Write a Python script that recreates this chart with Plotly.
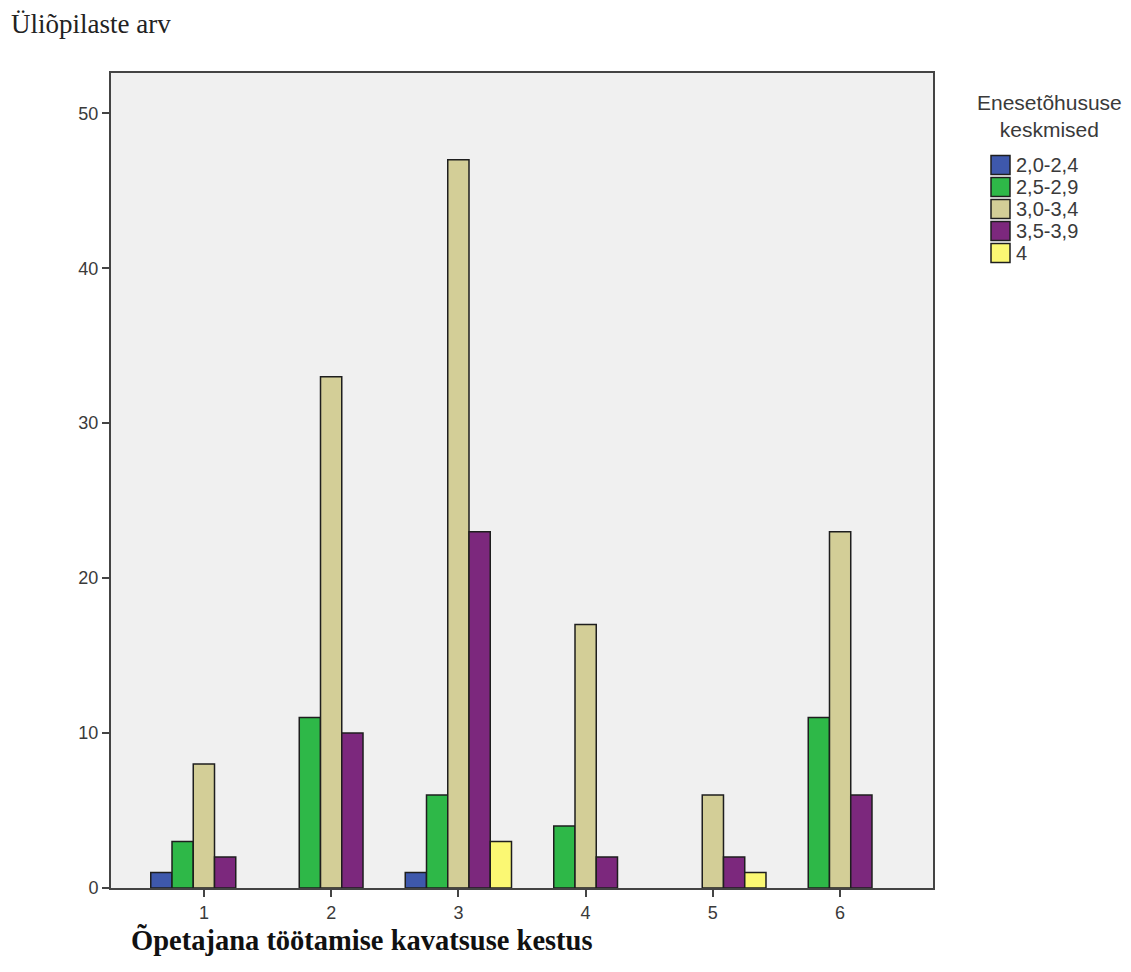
import plotly.graph_objects as go

# Kategooriad (x-telg) ja rühmade arvud
categories = [1, 2, 3, 4, 5, 6]
group_names = ["2,0-2,4", "2,5-2,9", "3,0-3,4", "3,5-3,9", "4"]
counts_20_24 = [1, None, 1, None, None, None]
counts_25_29 = [3, 11, 6, 4, None, 11]
counts_30_34 = [8, 33, 47, 17, 6, 23]
counts_35_39 = [2, 10, 23, 2, 2, 6]
counts_4 = [None, None, 3, None, 1, None]
y_ticks = [0, 10, 20, 30, 40, 50]

series = [counts_20_24, counts_25_29, counts_30_34, counts_35_39, counts_4]
colors = ["#3E58AC", "#2EB848", "#D3CE97", "#7C287D", "#FBF873"]
outline = "#1e1e1e"

W, H = 1131, 972
L, R, T, B = 111, 198, 73, 84
PW, PH = W - L - R, H - T - B


def px_x(px):
    return (px - L) / PW


def px_y(py):
    return (H - B - py) / PH


fig = go.Figure()
for name, vals, col in zip(group_names, series, colors):
    fig.add_trace(go.Bar(
        x=categories, y=vals, name=name, showlegend=False,
        marker=dict(color=col, line=dict(color=outline, width=1.5)),
    ))

fig.update_layout(
    width=W, height=H,
    margin=dict(l=L, r=R, t=T, b=B),
    paper_bgcolor="white", plot_bgcolor="#F0F0F0",
    barmode="group", bargap=0.165, bargroupgap=0,
    font=dict(family="Liberation Sans, Arial", size=18, color="#333333"),
)
axis_style = dict(
    ticks="outside", ticklen=7, tickwidth=2, tickcolor="#444444",
    showline=True, linecolor="#444444", linewidth=2, mirror=True,
    showgrid=False, zeroline=False,
    tickfont=dict(family="Liberation Sans, Arial", size=18, color="#3a3a3a"),
)
fig.update_xaxes(range=[0.27, 6.73], tickvals=categories,
                 ticktext=[str(c) for c in categories], **axis_style)
fig.update_yaxes(range=[0, 52.6], tickvals=y_ticks, **axis_style)

# Legend: title, colour swatches and labels
fig.add_annotation(
    text="Enesetõhususe<br>keskmised", xref="paper", yref="paper",
    x=px_x(1049), y=px_y(116), xanchor="center", yanchor="middle", showarrow=False,
    font=dict(family="Liberation Sans, Arial", size=21, color="#3a3a3a"),
)
row0, row_step, sw = 165, 22, 19
for i, (name, col) in enumerate(zip(group_names, colors)):
    cy = row0 + i * row_step
    fig.add_shape(
        type="rect", xref="paper", yref="paper",
        x0=px_x(991), x1=px_x(991 + sw), y0=px_y(cy + sw / 2), y1=px_y(cy - sw / 2),
        fillcolor=col, line=dict(color=outline, width=1.5),
    )
    fig.add_annotation(
        text=name, xref="paper", yref="paper",
        x=px_x(1014), y=px_y(cy), xanchor="left", yanchor="middle", showarrow=False,
        font=dict(family="Liberation Sans, Arial", size=20, color="#3a3a3a"),
    )

fig.add_annotation(
    text="Üliõpilaste arv", xref="paper", yref="paper",
    x=px_x(9), y=px_y(24), xanchor="left", yanchor="middle", showarrow=False,
    font=dict(family="Liberation Serif, Times New Roman", size=27, color="#222222"),
)
fig.add_annotation(
    text="<b>Õpetajana töötamise kavatsuse kestus</b>", xref="paper", yref="paper",
    x=px_x(129), y=px_y(940), xanchor="left", yanchor="middle", showarrow=False,
    font=dict(family="Liberation Serif, Times New Roman", size=28.5, color="#111111"),
)

fig.write_html("out.html")
